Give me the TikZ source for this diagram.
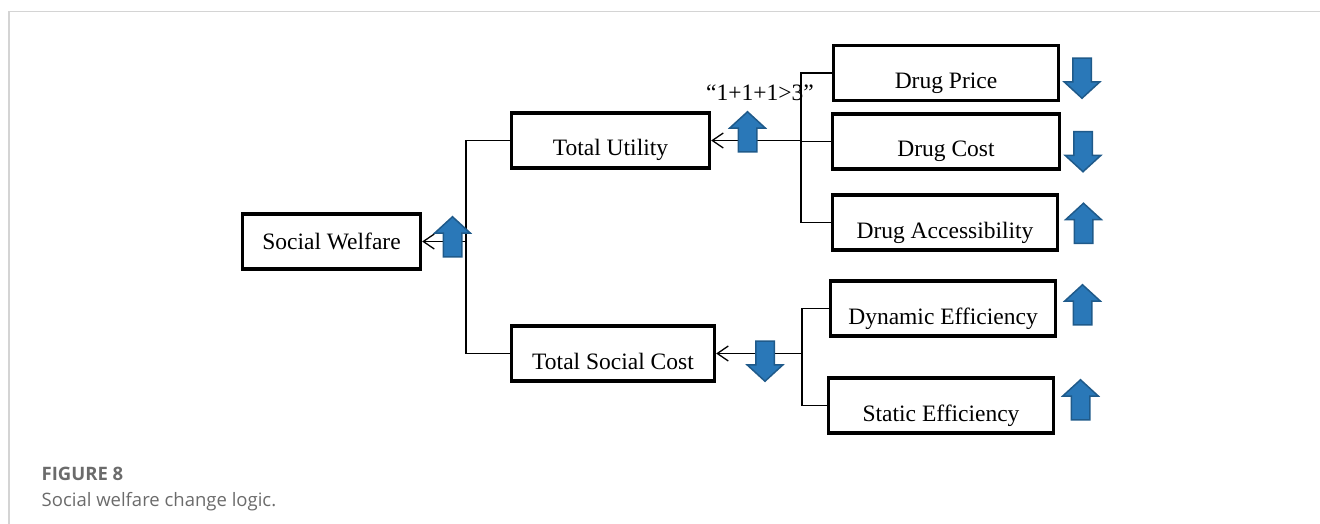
\documentclass[tikz,border=0pt]{standalone}
\usepackage{fontspec}
\setmainfont{Liberation Serif}
\newfontfamily\capfont{Open Sans}
\usetikzlibrary{shapes.arrows,arrows.meta,positioning}
\definecolor{arrowblue}{HTML}{2A78B8}
\definecolor{arrowedge}{HTML}{1F5A8A}
\definecolor{capgray}{HTML}{6B6B6B}
\definecolor{framegray}{HTML}{D4D4D4}

\begin{document}
\begin{tikzpicture}[
    x=1pt, y=-1pt,
    box/.style={rectangle, draw=black, line width=3.3pt, minimum height=55pt, inner sep=0pt, font=\fontsize{23.5}{28}\selectfont, text height=18pt, text depth=2pt},
    lowbox/.style={box, text height=36pt, text depth=5pt},
    link/.style={draw=black, line width=1.3pt},
    arrow/.style={link, -{Straight Barb[length=11pt, width=15pt]}},
    blockarr/.style={single arrow, draw=arrowedge, fill=arrowblue, line width=1.5pt, inner sep=8.5pt, minimum height=40pt, single arrow head extend=8.5pt, single arrow head indent=0pt, single arrow tip angle=95},
    uparr/.style={blockarr, shape border rotate=90},
    downarr/.style={blockarr, shape border rotate=270}
]
    \useasboundingbox (0,0) rectangle (1320,524);
    \draw[framegray, line width=1.5pt] (9,524) -- (9,11.5) -- (1320,11.5);

    \node [box, minimum width=178pt] (sw) at (331.5,241.5) {Social Welfare};
    \node [lowbox, minimum width=198pt] (tu) at (610.5,140.5) {Total Utility};
    \node [lowbox, minimum width=203pt] (tsc) at (613,353.5) {Total Social Cost};
    \node [lowbox, minimum width=225pt] (dp) at (946,73) {Drug Price};
    \node [lowbox, minimum width=227pt] (dc) at (946,141.5) {Drug Cost};
    \node [lowbox, minimum width=225pt] (da) at (945,222.5) {Drug Accessibility};
    \node [lowbox, minimum width=225pt] (de) at (943,308.5) {Dynamic Efficiency};
    \node [lowbox, minimum width=225pt] (se) at (941,405.5) {Static Efficiency};
    \node [font=\fontsize{23.5}{28}\selectfont, anchor=base, inner sep=0pt] (synergy) at (760,101) {“1+1+1>3”};

    \coordinate (j1) at (466,241.5);
    \coordinate (j2) at (801,140.5);
    \coordinate (j3) at (802,353.5);

    \draw [link] (tu.west) -| (j1) |- (tsc.west);
    \draw [arrow] (j1) -- (sw.east);
    \draw [link] (dp.west) -| (j2) |- (da.west);
    \draw [link] (dc.west) -- (dc.west -| j2);
    \draw [arrow] (j2) -- (tu.east);
    \draw [link] (de.west) -| (j3) |- (se.west);
    \draw [arrow] (j3) -- (tsc.east);

    \node [uparr] (usw) at (452.5,241) {};
    \node [uparr] (utu) at (747.5,136) {};
    \node [downarr] (dtsc) at (765,357) {};
    \node [downarr] (ddp) at (1082,74) {};
    \node [downarr] (ddc) at (1083,147.5) {};
    \node [uparr] (uda) at (1083.5,227.5) {};
    \node [uparr] (ude) at (1082.5,309) {};
    \node [uparr] (use) at (1080.5,404) {};

    \node [anchor=base west, inner sep=0pt, text=capgray, font=\capfont\bfseries\fontsize{18.5}{22}\selectfont] (fig) at (41.5,480) {FIGURE 8};
    \node [anchor=base west, inner sep=0pt, text=capgray, font=\capfont\fontsize{18.5}{22}\selectfont] (cap) at (41.5,506) {Social welfare change logic.};
\end{tikzpicture}
\end{document}
